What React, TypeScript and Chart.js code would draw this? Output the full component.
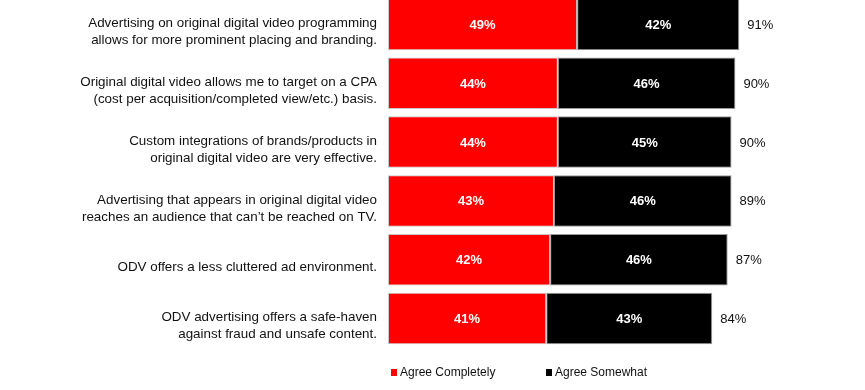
import { useEffect, useRef } from 'react';
import { Chart, registerables } from 'chart.js';

Chart.register(...registerables);

const categories: string[][] = [
  ['Advertising on original digital video programming', 'allows for more prominent placing and branding.'],
  ['Original digital video allows me to target on a CPA', '(cost per acquisition/completed view/etc.) basis.'],
  ['Custom integrations of brands/products in', 'original digital video are very effective.'],
  ['Advertising that appears in original digital video', 'reaches an audience that can\u2019t be reached on TV.'],
  ['ODV offers a less cluttered ad environment.'],
  ['ODV advertising offers a safe-haven', 'against fraud and unsafe content.'],
];

const agreeCompletely = [49, 44, 44, 43, 42, 41];
const agreeSomewhat = [42, 46, 45, 46, 46, 43];
const totals = [91, 90, 90, 89, 87, 84];

const seriesNames = ['Agree Completely', 'Agree Somewhat'];
const seriesColors = ['#FF0000', '#000000'];

const FONT = '"Liberation Sans", Arial, Helvetica, sans-serif';

const labelPlugin = {
  id: 'valueLabels',
  afterDatasetsDraw(chart: any) {
    const ctx = chart.ctx;
    ctx.save();
    ctx.textBaseline = 'middle';
    chart.data.datasets.forEach((ds: any, di: number) => {
      const meta = chart.getDatasetMeta(di);
      meta.data.forEach((el: any, i: number) => {
        const { x, base, y } = el.getProps(['x', 'base', 'y'], true);
        ctx.fillStyle = '#FFFFFF';
        ctx.font = `bold 13px ${FONT}`;
        ctx.textAlign = 'center';
        ctx.fillText(`${ds.data[i]}%`, (x + base) / 2, y + 1);
      });
    });
    const last = chart.getDatasetMeta(chart.data.datasets.length - 1);
    last.data.forEach((el: any, i: number) => {
      const { x, y } = el.getProps(['x', 'y'], true);
      ctx.fillStyle = '#111111';
      ctx.font = `13px ${FONT}`;
      ctx.textAlign = 'left';
      ctx.fillText(`${totals[i]}%`, x + 8, y + 1);
    });
    ctx.restore();
  },
  afterDraw(chart: any) {
    const ctx = chart.ctx;
    const { left, bottom } = chart.chartArea;
    const cy = bottom + 24;
    const offsets = [3, 158];
    ctx.save();
    ctx.textBaseline = 'middle';
    ctx.textAlign = 'left';
    ctx.font = `12px ${FONT}`;
    seriesNames.forEach((name, i) => {
      const x = left + offsets[i];
      ctx.fillStyle = seriesColors[i];
      ctx.fillRect(x, cy - 3, 6, 7);
      ctx.fillStyle = '#111111';
      ctx.fillText(name, x + 9, cy + 1);
    });
    ctx.restore();
  },
};

export default function App() {
  const ref = useRef<HTMLCanvasElement>(null);
  useEffect(() => {
    const chart = new Chart(ref.current as HTMLCanvasElement, {
      type: 'bar',
      data: {
        labels: categories as any,
        datasets: [
          {
            label: seriesNames[0],
            data: agreeCompletely,
            backgroundColor: seriesColors[0],
            borderColor: '#C8C8C8',
            borderWidth: 1,
            borderSkipped: false,
            barPercentage: 0.875,
            categoryPercentage: 1,
          },
          {
            label: seriesNames[1],
            data: agreeSomewhat,
            backgroundColor: seriesColors[1],
            borderColor: '#9A9A9A',
            borderWidth: 1,
            borderSkipped: false,
            barPercentage: 0.875,
            categoryPercentage: 1,
          },
        ],
      },
      options: {
        indexAxis: 'y',
        responsive: false,
        animation: false,
        devicePixelRatio: 1,
        layout: { padding: { left: 0, right: 91, top: 0, bottom: 42 } },
        plugins: {
          legend: { display: false },
          tooltip: { enabled: false },
          title: { display: false },
        },
        scales: {
          x: { stacked: true, min: 0, max: 100, display: false },
          y: {
            stacked: true,
            grid: { display: false, drawTicks: false },
            border: { display: false },
            ticks: {
              color: '#111111',
              font: { family: FONT, size: 13.4, lineHeight: 1.27 },
              padding: 11,
              labelOffset: 7.5,
            },
            afterFit(scale: any) {
              scale.width = 388;
              scale.paddingTop = 0;
              scale.paddingBottom = 0;
            },
          },
        },
      },
      plugins: [labelPlugin],
    } as any);
    return () => chart.destroy();
  }, []);
  return (
    <canvas
      ref={ref}
      width={865}
      height={395}
      style={{ position: 'absolute', left: 0, top: -5, display: 'block' }}
    />
  );
}
